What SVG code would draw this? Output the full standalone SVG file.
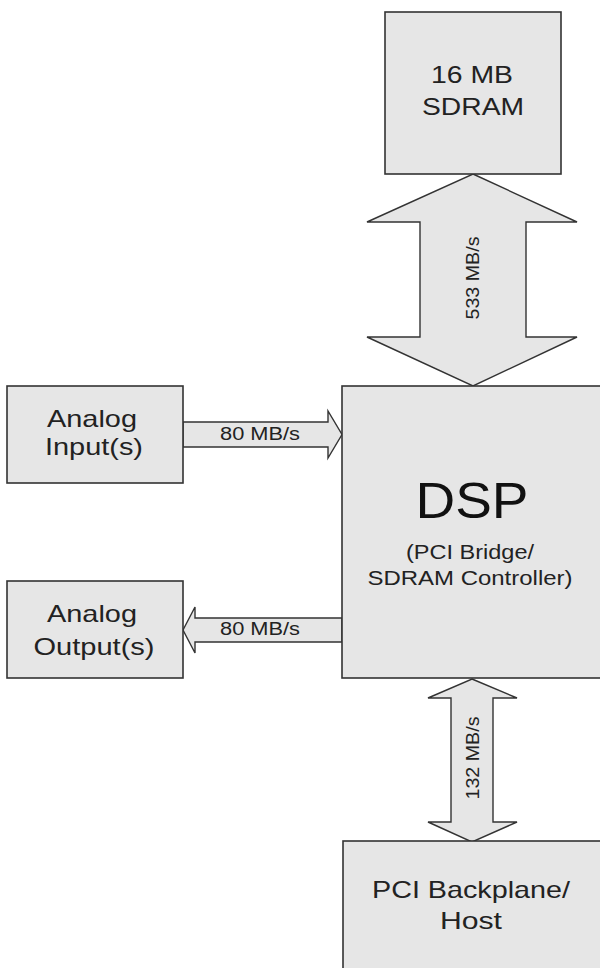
<svg xmlns="http://www.w3.org/2000/svg" width="600" height="968" viewBox="0 0 600 968">
<style>
.box{fill:#e6e6e6;stroke:#333;stroke-width:1.6}
.arr{fill:#e6e6e6;stroke:#333;stroke-width:1.4;stroke-linejoin:miter}
text{font-family:"Liberation Sans",Arial,sans-serif;fill:#222;text-anchor:middle}
.lbl{font-size:24px}
.sm{font-size:18px}
.mid{font-size:20px}
</style>
<rect width="600" height="968" fill="#ffffff"/>
<g id="connectors">
  <polygon class="arr" points="473,174 577,222 526,222 526,337 577,337 473,386 367,337 420,337 420,222 367,222"/>
  <text class="sm" transform="translate(479,278) rotate(-90)" textLength="83" lengthAdjust="spacingAndGlyphs">533 MB/s</text>
  <polygon class="arr" points="183,422 328,422 328,411 342,434.5 328,458 328,447 183,447"/>
  <text class="sm" x="260" y="440" textLength="80" lengthAdjust="spacingAndGlyphs">80 MB/s</text>
  <polygon class="arr" points="183,630 195,607 195,618 342,618 342,642 195,642 195,653"/>
  <text class="sm" x="260" y="635" textLength="80" lengthAdjust="spacingAndGlyphs">80 MB/s</text>
  <polygon class="arr" points="472,679 517,698 493,698 493,822 517,822 472,842 428,822 451,822 451,698 428,698"/>
  <text class="sm" transform="translate(479,758) rotate(-90)" textLength="83" lengthAdjust="spacingAndGlyphs">132 MB/s</text>
</g>
<g id="sdram">
  <rect class="box" x="385" y="12" width="176" height="162"/>
  <text class="lbl" x="472" y="83" textLength="82" lengthAdjust="spacingAndGlyphs">16 MB</text>
  <text class="lbl" x="473" y="115" textLength="102" lengthAdjust="spacingAndGlyphs">SDRAM</text>
</g>
<g id="dsp">
  <rect class="box" x="342" y="386" width="270" height="292"/>
  <text x="472" y="518" style="font-size:50px;fill:#111" textLength="113" lengthAdjust="spacingAndGlyphs">DSP</text>
  <text class="mid" x="470" y="559" textLength="128" lengthAdjust="spacingAndGlyphs">(PCI Bridge/</text>
  <text class="mid" x="470" y="585" textLength="205" lengthAdjust="spacingAndGlyphs">SDRAM Controller)</text>
</g>
<g id="analog-input">
  <rect class="box" x="7" y="386" width="176" height="97"/>
  <text class="lbl" x="92" y="427" textLength="90" lengthAdjust="spacingAndGlyphs">Analog</text>
  <text class="lbl" x="94" y="455" textLength="98" lengthAdjust="spacingAndGlyphs">Input(s)</text>
</g>
<g id="analog-output">
  <rect class="box" x="7" y="581" width="176" height="97"/>
  <text class="lbl" x="92" y="622" textLength="90" lengthAdjust="spacingAndGlyphs">Analog</text>
  <text class="lbl" x="94" y="655" textLength="121" lengthAdjust="spacingAndGlyphs">Output(s)</text>
</g>
<g id="pci-host">
  <rect class="box" x="343" y="841" width="270" height="140"/>
  <text class="lbl" x="471" y="898" textLength="198" lengthAdjust="spacingAndGlyphs">PCI Backplane/</text>
  <text class="lbl" x="471" y="929" textLength="62" lengthAdjust="spacingAndGlyphs">Host</text>
</g>
</svg>
